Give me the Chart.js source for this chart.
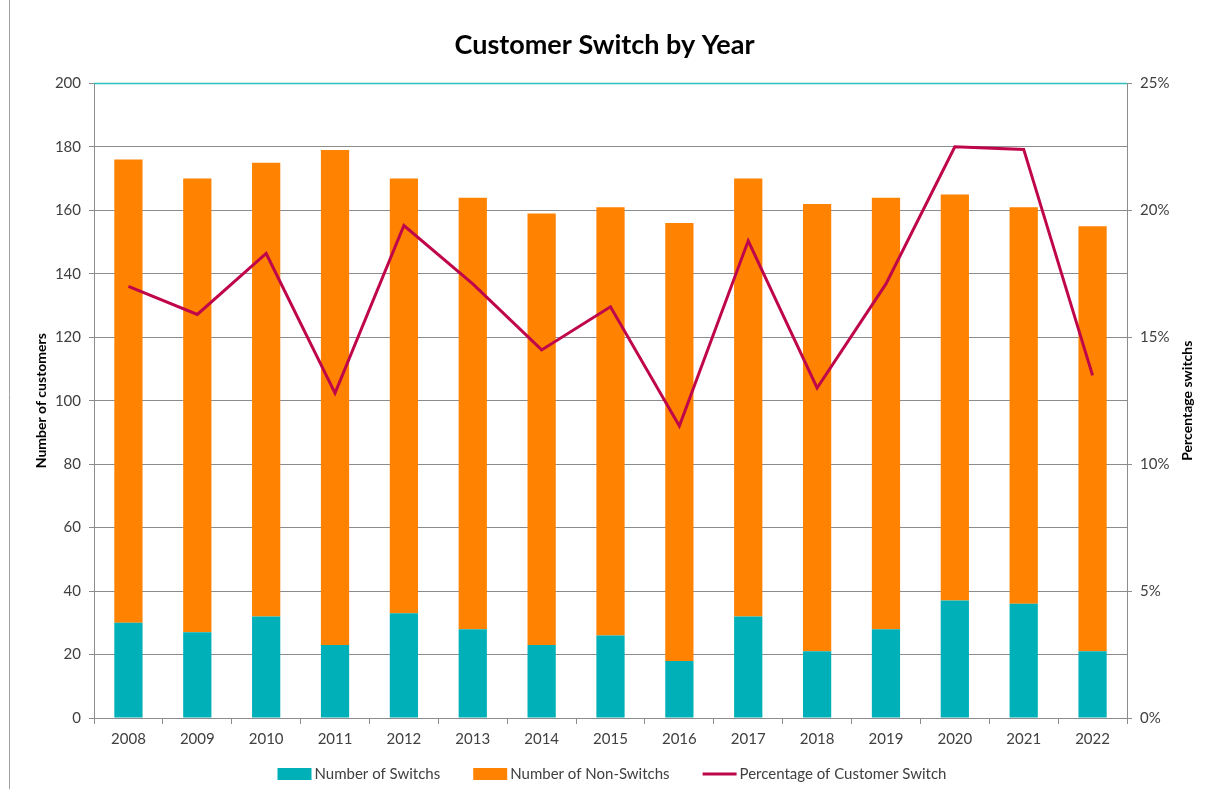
<!DOCTYPE html>
<html>
<head>
<meta charset="utf-8">
<title>Customer Switch by Year</title>
<script src="https://cdn.jsdelivr.net/npm/chart.js@4/dist/chart.umd.min.js"></script>
<style>
  html, body { margin: 0; padding: 0; background: #fff; }
  #wrap { width: 1209px; height: 789px; position: relative; }
</style>
</head>
<body>
<div id="wrap"><canvas id="chart" width="1209" height="789"></canvas></div>
<script>
const years = ['2008', '2009', '2010', '2011', '2012', '2013', '2014', '2015', '2016', '2017', '2018', '2019', '2020', '2021', '2022'];
const switches = [30, 27, 32, 23, 33, 28, 23, 26, 18, 32, 21, 28, 37, 36, 21];
const nonSwitches = [146, 143, 143, 156, 137, 136, 136, 135, 138, 138, 141, 136, 128, 125, 134];
const switchPct = [17.0, 15.9, 18.3, 12.8, 19.4, 17.1, 14.5, 16.2, 11.5, 18.8, 13.0, 17.1, 22.5, 22.4, 13.5];

const FONT = 'Lato, "Open Sans", sans-serif';
const TEXT = '#404040';
const GRID = '#8c8c8c';
const TOPLINE = '#2CC0C0';

// top gridline in teal, axis titles, legend and the page edge line
const extras = {
    id: 'extras',
    beforeDatasetsDraw(chart) {
        const ctx = chart.ctx;
        const area = chart.chartArea;
        const yTop = Math.round(chart.scales.y.getPixelForValue(chart.scales.y.max)) + 0.5;
        ctx.save();
        ctx.strokeStyle = TOPLINE;
        ctx.lineWidth = 1.5;
        ctx.beginPath();
        ctx.moveTo(area.left, yTop);
        ctx.lineTo(area.right, yTop);
        ctx.stroke();
        ctx.restore();
    },
    afterDraw(chart) {
        const ctx = chart.ctx;
        const area = chart.chartArea;
        ctx.save();

        ctx.strokeStyle = '#a0a0a0';
        ctx.lineWidth = 1;
        ctx.beginPath();
        ctx.moveTo(9.5, 0);
        ctx.lineTo(9.5, chart.height);
        ctx.stroke();

        ctx.fillStyle = '#000';
        ctx.font = 'bold 14px ' + FONT;
        ctx.textAlign = 'center';
        ctx.textBaseline = 'middle';
        const midY = (area.top + area.bottom) / 2;
        [[41, 'Number of customers'], [1187, 'Percentage switchs']].forEach(([x, label]) => {
            ctx.save();
            ctx.translate(x, midY);
            ctx.rotate(-Math.PI / 2);
            ctx.fillText(label, 0, 0);
            ctx.restore();
        });

        // legend
        ctx.font = '15px ' + FONT;
        ctx.textAlign = 'left';
        const boxW = 34, gap = 3, spacing = 33;
        const items = chart.data.datasets.map(ds => ({
            label: ds.label, color: ds.type === 'line' ? ds.borderColor : ds.backgroundColor, line: ds.type === 'line'
        }));
        let total = 0;
        items.forEach((it, i) => {
            it.w = boxW + gap + ctx.measureText(it.label).width;
            total += it.w + (i ? spacing : 0);
        });
        let x = 612 - total / 2;
        const y = 774;
        items.forEach(it => {
            if (it.line) {
                ctx.strokeStyle = it.color;
                ctx.lineWidth = 3;
                ctx.beginPath();
                ctx.moveTo(x, y);
                ctx.lineTo(x + boxW, y);
                ctx.stroke();
            } else {
                ctx.fillStyle = it.color;
                ctx.fillRect(x, y - 6, boxW, 12);
            }
            ctx.fillStyle = TEXT;
            ctx.fillText(it.label, x + boxW + gap, y);
            x += it.w + spacing;
        });
        ctx.restore();
    }
};

new Chart(document.getElementById('chart'), {
    data: {
        labels: years,
        datasets: [
            {
                type: 'bar',
                label: 'Number of Switchs',
                data: switches,
                backgroundColor: '#00B0B9',
                stack: 'a',
                barPercentage: 0.41,
                categoryPercentage: 1,
                order: 1
            },
            {
                type: 'bar',
                label: 'Number of Non-Switchs',
                data: nonSwitches,
                backgroundColor: '#FF8200',
                stack: 'a',
                barPercentage: 0.41,
                categoryPercentage: 1,
                order: 1
            },
            {
                type: 'line',
                label: 'Percentage of Customer Switch',
                data: switchPct,
                yAxisID: 'y1',
                borderColor: '#C0064B',
                backgroundColor: '#C0064B',
                borderWidth: 3,
                pointRadius: 0,
                tension: 0,
                order: 0
            }
        ]
    },
    options: {
        responsive: false,
        animation: false,
        plugins: {
            legend: { display: false },
            tooltip: { enabled: false },
            title: {
                display: true,
                text: 'Customer Switch by Year',
                color: '#000',
                font: { family: FONT, size: 27, weight: 'bold' },
                padding: { top: 29, bottom: 22 }
            }
        },
        scales: {
            x: {
                stacked: true,
                grid: { drawOnChartArea: false, drawTicks: true, tickLength: 6, color: GRID },
                border: { color: GRID },
                ticks: { color: TEXT, font: { family: FONT, size: 15 }, padding: 6 },
                afterFit: s => { s.height = 71; }
            },
            y: {
                stacked: true,
                min: 0,
                max: 200,
                ticks: { stepSize: 20, color: TEXT, font: { family: FONT, size: 15 }, padding: 8 },
                grid: { color: GRID, tickLength: 5 },
                border: { color: GRID },
                afterFit: s => { s.width = 94; }
            },
            y1: {
                position: 'right',
                min: 0,
                max: 25,
                ticks: { stepSize: 5, color: TEXT, font: { family: FONT, size: 15 }, padding: 8, callback: v => v + '%' },
                grid: { drawOnChartArea: false, tickLength: 5, color: GRID },
                border: { color: GRID },
                afterFit: s => { s.width = 82; }
            }
        }
    },
    plugins: [extras]
});
</script>
</body>
</html>
